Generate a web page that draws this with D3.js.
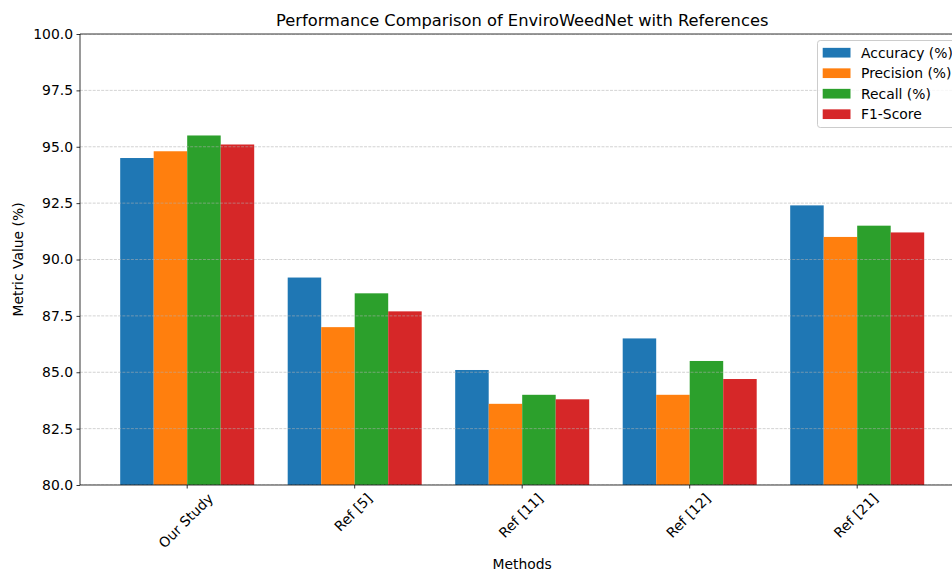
<!DOCTYPE html>
<html>
<head>
<meta charset="utf-8">
<script src="https://cdn.jsdelivr.net/npm/d3@7"></script>
<style>
  html, body { margin: 0; padding: 0; background: #fff; }
  svg { display: block; font-family: "DejaVu Sans", sans-serif; }
</style>
</head>
<body>
<svg id="chart" width="952" height="571"></svg>
<script>
const categories = ["Our Study", "Ref [5]", "Ref [11]", "Ref [12]", "Ref [21]"];
const seriesNames = ["Accuracy (%)", "Precision (%)", "Recall (%)", "F1-Score"];
const accuracy  = [94.5, 89.2, 85.1, 86.5, 92.4];
const precision = [94.8, 87.0, 83.6, 84.0, 91.0];
const recall    = [95.5, 88.5, 84.0, 85.5, 91.5];
const f1score   = [95.1, 87.7, 83.8, 84.7, 91.2];
const yTicks = [80, 82.5, 85, 87.5, 90, 92.5, 95, 97.5, 100];
const colors = ["#1f77b4", "#ff7f0e", "#2ca02c", "#d62728"];
const seriesValues = [accuracy, precision, recall, f1score];

(function () {
const svg = d3.select("#chart");
const pL = 80, pR = 964.4, pT = 34, pB = 485;

const x0 = d3.scaleBand().domain(categories).range([pL, pR])
  .paddingInner(0.2).paddingOuter(0.24);
const x1 = d3.scaleBand().domain(seriesNames).range([0, x0.bandwidth()]);
const y = d3.scaleLinear().domain([80, 100]).range([pB, pT]);
const color = d3.scaleOrdinal().domain(seriesNames).range(colors);

svg.append("defs").append("clipPath").attr("id", "plotclip")
  .append("rect").attr("x", pL).attr("y", pT)
  .attr("width", pR - pL).attr("height", pB - pT);

// bars
const data = categories.map((c, i) => ({
  cat: c,
  vals: seriesNames.map((s, j) => ({ s, v: seriesValues[j][i] }))
}));
const plot = svg.append("g").attr("clip-path", "url(#plotclip)");
plot.selectAll("g.grp").data(data).join("g")
  .attr("class", "grp")
  .attr("transform", d => `translate(${x0(d.cat)},0)`)
  .selectAll("rect").data(d => d.vals).join("rect")
  .attr("x", d => x1(d.s))
  .attr("width", x1.bandwidth())
  .attr("y", d => y(d.v))
  .attr("height", d => y(80) - y(d.v))
  .attr("fill", d => color(d.s));

// grid (on top of bars, as in matplotlib)
plot.selectAll("line.grid").data(yTicks).join("line")
  .attr("class", "grid")
  .attr("x1", pL).attr("x2", pR)
  .attr("y1", d => y(d)).attr("y2", d => y(d))
  .attr("stroke", "#b0b0b0").attr("stroke-opacity", 0.7)
  .attr("stroke-width", 0.8).attr("stroke-dasharray", "2.96,1.28");

// y axis
const yAxis = svg.append("g").attr("transform", `translate(${pL},0)`)
  .call(d3.axisLeft(y).tickValues(yTicks).tickFormat(d3.format(".1f")).tickSizeInner(3.5).tickSizeOuter(0).tickPadding(3.5));
yAxis.select(".domain").remove();
yAxis.selectAll(".tick line").attr("stroke", "#000").attr("stroke-width", 0.8);
yAxis.selectAll(".tick text").attr("fill", "#000").style("font-size", "13.9px")
  .style("font-family", "DejaVu Sans");

// x axis
const xAxis = svg.append("g").attr("transform", `translate(0,${pB})`)
  .call(d3.axisBottom(x0).tickSizeInner(3.5).tickSizeOuter(0).tickPadding(3.5));
xAxis.select(".domain").remove();
xAxis.selectAll(".tick line").attr("stroke", "#000").attr("stroke-width", 0.8);
xAxis.selectAll(".tick text").each(function() {
  const t = d3.select(this);
  t.attr("fill", "#000").style("font-size", "13.9px").style("font-family", "DejaVu Sans")
   .attr("dy", null).attr("y", 0).attr("text-anchor", "middle")
   .attr("dominant-baseline", "central");
  const w = this.getComputedTextLength();
  const h = 13.9;
  const half = (w + h) / (2 * Math.SQRT2);
  t.attr("transform", `translate(-1.5,${6 + half}) rotate(-45)`);
});

// spines
const spine = svg.append("g").attr("stroke", "#000").attr("stroke-width", 0.8).attr("fill", "none");
spine.append("line").attr("x1", pL).attr("x2", pL).attr("y1", pT).attr("y2", pB);
spine.append("line").attr("x1", pL).attr("x2", pR).attr("y1", pB).attr("y2", pB);
spine.append("line").attr("x1", pL).attr("x2", pR).attr("y1", pT).attr("y2", pT);
spine.append("line").attr("x1", pR).attr("x2", pR).attr("y1", pT).attr("y2", pB);

// title and labels
svg.append("text").attr("x", (pL + pR) / 2).attr("y", 26)
  .attr("text-anchor", "middle").style("font-size", "16.3px").attr("fill", "#000")
  .text("Performance Comparison of EnviroWeedNet with References");
svg.append("text").attr("x", (pL + pR) / 2).attr("y", 569)
  .attr("text-anchor", "middle").style("font-size", "13.9px").attr("fill", "#000")
  .text("Methods");
svg.append("text").attr("transform", `translate(23,${(pT + pB) / 2}) rotate(-90)`)
  .attr("text-anchor", "middle").style("font-size", "13.9px").attr("fill", "#000")
  .text("Metric Value (%)");

// legend
const lg = svg.append("g");
lg.append("rect").attr("x", 817.5).attr("y", 40.5).attr("width", 140).attr("height", 87)
  .attr("rx", 2.8).attr("fill", "#fff").attr("fill-opacity", 0.8)
  .attr("stroke", "#cccccc").attr("stroke-width", 1);
const rowY = d3.scaleBand().domain(seriesNames).range([42.5, 124.5]);
const items = lg.selectAll("g.item").data(seriesNames).join("g").attr("class", "item")
  .attr("transform", d => `translate(0,${rowY(d) + rowY.bandwidth() / 2})`);
items.append("rect").attr("x", 822.7).attr("y", -4.9).attr("width", 27.8).attr("height", 9.7)
  .attr("fill", d => color(d));
items.append("text").attr("x", 861).attr("y", 0).attr("dy", "0.36em")
  .style("font-size", "13.9px").attr("fill", "#000").text(d => d);
})();
</script>
</body>
</html>
